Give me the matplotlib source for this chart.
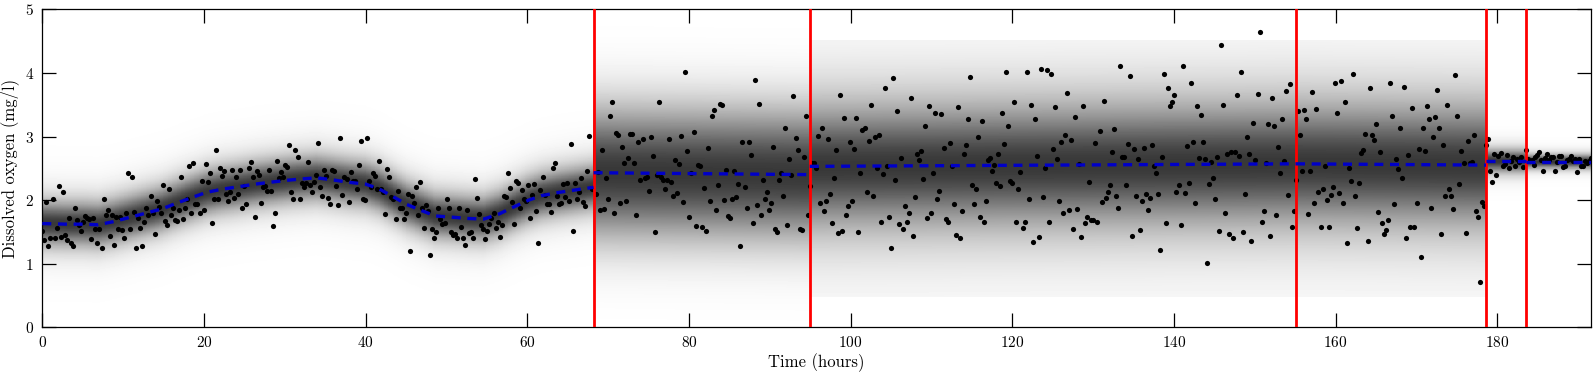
import numpy as np
import matplotlib
matplotlib.use("Agg")
import matplotlib.pyplot as plt

plt.rcParams['font.family'] = 'serif'
plt.rcParams['font.serif'] = ['cmr10']
plt.rcParams['mathtext.fontset'] = 'cm'
plt.rcParams['axes.formatter.use_mathtext'] = True

# puntos de cambio (horas) y fin del registro
cambios = [68.2, 94.95, 155.1, 178.6, 183.5]
t_fin = 191.6

# oxigeno disuelto observado (mg/l), por segmento, cada ~15 min
seg1 = [1.51, 1.37, 1.97, 1.28, 1.41, 2.01, 1.40, 1.56, 2.22, 1.42, 2.12, 1.45, 1.37, 1.71, 1.32, 1.28,
        1.87, 1.69, 1.61, 1.52, 1.66, 1.75, 1.71, 1.70, 1.39, 1.71, 1.54, 1.32, 1.54, 1.25, 2.01, 1.76,
        1.85, 1.43, 1.77, 1.29, 1.73, 1.55, 1.74, 1.53, 1.41, 1.79, 2.42, 1.54, 2.37, 1.81, 1.24, 1.72,
        1.56, 1.28, 1.66, 1.87, 1.76, 2.06, 1.80, 1.47, 1.99, 1.89, 1.80, 2.23, 1.67, 1.60, 2.17, 1.77,
        1.88, 1.69, 1.67, 1.85, 2.37, 1.70, 1.88, 2.02, 2.54, 1.80, 2.59, 1.94, 1.94, 1.79, 2.30, 1.84,
        2.57, 2.28, 2.43, 1.64, 2.02, 2.79, 2.02, 2.51, 2.38, 2.45, 2.10, 1.98, 2.12, 2.47, 2.03, 2.36,
        2.10, 2.48, 1.88, 2.22, 1.93, 2.51, 2.60, 2.37, 1.74, 2.46, 2.39, 1.96, 2.21, 2.22, 2.14, 2.47,
        2.15, 1.59, 1.80, 2.62, 2.34, 2.44, 2.37, 2.55, 2.52, 2.86, 2.13, 2.01, 2.79, 2.68,
        2.01, 2.27, 2.21, 2.27, 2.60, 2.23, 2.13, 2.29, 2.39, 2.90, 2.21, 2.06, 2.48, 2.38, 2.03, 1.94,
        2.47, 2.45, 2.22, 1.92, 2.98, 2.08, 2.37, 2.33, 1.97, 2.44, 2.30, 2.30, 2.18, 2.55, 2.93, 2.02,
        2.00, 2.98, 2.30, 2.21, 2.42, 2.38, 2.18, 2.61, 2.18, 2.13, 1.78, 2.49, 2.36, 2.05, 2.02, 1.70,
        2.14, 1.88, 1.88, 1.70, 1.80, 2.09, 1.20, 2.06, 1.96, 2.21, 1.77, 2.29, 1.87, 1.56, 1.92, 1.83,
        1.14, 1.54, 1.41, 1.49, 1.88, 1.70, 1.62, 1.64, 2.02, 1.87, 1.50, 1.45, 1.46, 1.40, 1.87, 1.58,
        1.41, 1.30, 1.85, 1.48, 1.50, 1.40, 2.33, 2.03, 1.78, 1.61, 1.54, 1.38, 1.51, 1.63, 1.71, 1.80,
        1.56, 1.65, 1.42, 1.61, 2.07, 2.05, 2.42, 2.19, 1.97, 1.62, 2.30, 2.27, 1.88, 2.16, 2.01, 1.99,
        2.23, 1.72, 2.08, 2.26, 1.83, 1.33, 2.16, 2.37, 2.08, 1.93, 1.94, 1.81, 2.50, 2.58, 2.06, 1.93,
        1.96, 2.25, 2.05, 2.27, 1.99, 2.89, 1.52, 2.27, 2.02, 2.13, 2.34, 1.97, 1.91, 2.45, 3.01, 2.18]
seg2 = [2.10, 2.44, 1.84, 2.79, 1.86, 2.35, 2.01, 3.32, 3.54, 1.79, 3.06, 3.03, 1.96, 2.83, 2.58, 1.98,
        2.66, 3.04, 3.04, 2.58, 1.76, 2.92, 2.32, 2.96, 2.35, 2.36, 2.14, 3.00, 2.70, 1.49, 2.40, 3.54,
        2.37, 2.32, 2.18, 2.32, 2.96, 2.28, 2.07, 2.63, 2.11, 2.57, 3.01, 1.97, 4.01, 2.77, 1.74, 2.43,
        3.07, 1.59, 2.55, 2.53, 1.58, 2.19, 1.51, 2.82, 1.98, 3.32, 3.42, 1.85, 2.24, 3.51, 3.49, 2.00,
        2.48, 1.75, 1.72, 2.01, 2.45, 2.05, 2.26, 1.27, 2.91, 2.20, 1.87, 2.91, 2.71, 1.64, 3.89, 1.92,
        3.51, 1.77, 2.32, 2.01, 2.12, 1.85, 1.95, 2.84, 1.55, 1.50, 2.31, 2.42, 2.06, 3.13, 1.60, 2.65,
        2.39, 3.64, 2.98, 2.79, 1.55, 1.53, 2.67, 3.33, 1.76, 2.22]
seg3 = [2.59, 2.58,
        2.50, 3.01, 1.95, 3.13, 1.82, 1.99, 2.96, 2.10, 1.64, 2.34, 2.79, 1.48, 3.66, 1.52, 3.29, 1.77,
        1.90, 2.91, 1.99, 2.81, 3.29, 1.49, 2.43, 3.11, 3.13, 2.12, 2.93, 3.49, 2.06, 2.99, 2.50, 3.02,
        1.65, 2.41, 3.76, 2.54, 1.73, 1.25, 3.92, 2.32, 3.40, 1.63, 2.66, 1.55, 1.91, 1.66, 1.79, 3.60,
        1.43, 2.04, 2.73, 2.63, 2.77, 2.33, 3.16, 1.72, 3.48, 1.80, 2.42, 3.37, 2.01, 2.15, 3.36, 2.82,
        1.70, 1.65, 2.90, 2.53, 1.94, 1.45, 3.47, 1.40, 1.83, 2.72, 2.86, 3.27, 3.93, 2.23, 1.93, 2.18,
        2.99, 1.73, 3.25, 1.66, 1.99, 2.63, 2.66, 2.46, 2.55, 2.27, 2.72, 2.22, 3.37, 2.89, 4.01, 3.16,
        2.30, 2.27, 3.55, 1.66, 2.18, 2.44, 1.56, 1.65, 4.01, 2.01, 3.50, 1.34, 3.28, 2.69, 1.42, 4.06,
        2.05, 2.50, 4.05, 1.65, 3.99, 2.80, 3.47, 2.65, 1.99, 2.92, 1.80, 3.03, 3.69, 1.84, 2.95, 1.54,
        3.31, 1.86, 2.57,
        1.42, 3.48, 1.64, 1.73, 2.28, 1.68, 1.68, 2.90, 1.65, 3.09, 1.97, 3.56, 2.03, 2.13, 2.23, 2.76,
        3.12, 2.06, 1.87, 4.11, 2.67, 2.68, 2.23, 2.89, 3.95, 1.43, 2.81, 2.06, 2.65, 1.53, 1.98, 2.82,
        2.10, 1.85, 2.03, 2.86, 2.54, 2.42, 2.09, 1.22, 2.68, 3.99, 1.64, 3.77, 3.48, 3.54, 3.65, 2.12,
        2.24, 1.60, 4.11, 2.11, 2.85, 2.27, 3.85, 2.92, 1.96, 3.48, 2.66, 3.34, 2.92, 2.64, 1.01, 2.25,
        2.60, 2.34, 2.02, 2.67, 1.52, 4.44, 3.50, 1.79, 2.73, 1.46, 2.76, 1.40, 2.75, 3.65, 2.70, 4.01,
        1.50, 2.09, 3.00, 2.73, 1.36, 3.21, 2.63, 3.67, 4.64, 1.66, 1.82, 2.59, 3.20, 1.44, 3.60, 3.17,
        1.76, 2.84, 2.42, 3.27, 2.61, 3.72, 2.08, 3.83, 1.57, 1.82, 2.32]
seg4 = [3.40, 3.02, 2.46, 3.41, 3.28, 1.78, 2.46, 3.70, 1.96, 3.43, 2.13, 1.57, 2.18, 2.54, 2.00, 1.58,
        2.08, 2.20, 3.84, 3.37, 2.11,
        3.87, 1.95, 3.54, 1.32, 2.50, 2.30, 3.99, 2.07, 1.56, 2.27, 2.74, 2.78, 3.04, 1.35, 3.77, 3.03,
        2.94, 3.20, 1.81, 2.76, 1.64, 1.47, 1.53, 1.69, 3.84, 3.32, 1.94, 2.65, 2.49, 3.13, 2.35, 3.78,
        1.40, 2.71, 1.57, 3.45, 1.57, 1.95, 2.80, 1.11, 3.14, 2.77, 3.48, 3.28, 1.88, 2.99, 3.31, 3.73,
        3.13, 1.47, 2.87, 2.07, 3.49, 2.17, 2.07, 1.86, 3.97, 3.32, 2.26, 2.77, 2.59, 1.48, 2.93, 2.59,
        2.60, 3.03, 1.82, 1.73, 0.71, 1.97, 1.90, 2.87]
seg5 = [2.96, 2.45, 2.28, 2.72, 2.39, 2.69, 2.74, 2.54, 2.57, 2.71, 2.50, 2.61, 2.67, 2.53, 2.65, 2.60,
        2.68, 2.52, 2.79]
seg6 = [2.64, 2.62, 2.63, 2.55, 2.68, 2.71, 2.75, 2.63, 2.46, 2.66, 2.72, 2.63, 2.67, 2.68, 2.45, 2.60,
        2.70, 2.70, 2.52, 2.54, 2.63, 2.65, 2.70, 2.61, 2.65, 2.44, 2.64, 2.54, 2.54, 2.61, 2.59, 2.61, 2.66]

# media predictiva (linea azul): nodos por segmento
media1_t = [0, 3.0, 5.1, 6.9, 8.8, 10.9, 12.7, 14.8, 16.6, 18.5, 20.3, 22.2, 24.3, 26.3, 28.2, 30.2,
            31.9, 33.9, 35.8, 37.9, 40.0, 41.6, 43.3, 45.1, 47.0, 48.6, 50.7, 52.6, 54.6, 56.5, 58.3,
            60.2, 61.8, 63.9, 66.0, 68.2]
media1_v = [1.63, 1.62, 1.62, 1.61, 1.66, 1.73, 1.79, 1.86, 1.95, 2.04, 2.12, 2.17, 2.21, 2.25, 2.28, 2.31,
            2.33, 2.35, 2.32, 2.28, 2.25, 2.18, 2.06, 1.93, 1.83, 1.75, 1.73, 1.71, 1.70, 1.78, 1.89,
            2.00, 2.07, 2.12, 2.16, 2.20]
media_ext = [(2.43, 2.40), (2.53, 2.57), (2.57, 2.55), (2.61, 2.61), (2.60, 2.60)]
escala = [0.25, 0.70, 0.70, 0.70, 0.13, 0.08]
# grados de libertad de la t (valor alto ~ normal)
gl = [5, 200, 5, 5, 5, 5]
# rango vertical donde se dibuja la densidad de cada segmento
rango = [(0, 5), (0, 5), (0.47, 4.52), (0.47, 4.52), (0, 5), (0, 5)]

segmentos = [seg1, seg2, seg3, seg4, seg5, seg6]
limites = [0] + cambios + [t_fin]

fig = plt.figure(figsize=(15.96, 3.79), dpi=100)
ax = fig.add_axes([0.0265, 0.137, 0.9704, 0.838])

# sombreado de la densidad predictiva (normalizada por columna)
nx, ny = 1900, 600
xg = np.linspace(0, t_fin, nx)
yg = np.linspace(0, 5, ny)
img = np.ones((ny, nx))
for k in range(6):
    a, b = limites[k], limites[k + 1]
    cols = (xg >= a) & (xg < b) if k < 5 else (xg >= a)
    if k == 0:
        mu = np.interp(xg[cols], media1_t, media1_v)
    else:
        m0, m1 = media_ext[k - 1]
        mu = np.interp(xg[cols], [a, b], [m0, m1])
    z = (yg[:, None] - mu[None, :]) / escala[k]
    nu = gl[k]
    d = (1 + z ** 2 / nu) ** (-(nu + 1) / 2)
    g = 1 - 0.78 * d
    fuera = (yg < rango[k][0]) | (yg > rango[k][1])
    g[fuera, :] = 1.0
    img[:, cols] = g
ax.imshow(img, extent=[0, t_fin, 0, 5], origin='lower', aspect='auto', cmap='gray',
          vmin=0, vmax=1, interpolation='nearest', zorder=0)

# puntos observados
for k, vals in enumerate(segmentos):
    a, b = limites[k], limites[k + 1]
    if k == 0:
        tt = np.linspace(a, b, len(vals) + 1)[:-1]
    else:
        tt = np.linspace(a, b, len(vals) + 1)[1:]
    ax.scatter(tt, vals, s=14, color='black', linewidths=0, zorder=3)

# puntos de cambio
for c in cambios:
    ax.axvline(c, color='red', lw=2.0, zorder=4)

# linea de media
estilo = dict(color='#0000c8', lw=2.4, linestyle=(0, (2.7, 2.0)), zorder=5)
ax.plot(media1_t, media1_v, **estilo)
for k in range(1, 6):
    a, b = limites[k], limites[k + 1]
    ax.plot([a, b], list(media_ext[k - 1]), **estilo)

ax.set_xlim(0, t_fin)
ax.set_ylim(0, 5)
ax.set_xticks(range(0, 181, 20))
ax.set_yticks(range(0, 6))
ax.tick_params(direction='in', length=10, width=0.9, top=True, right=True, labelsize=11, pad=6)
for s in ax.spines.values():
    s.set_linewidth(0.9)
ax.set_xlabel('Time (hours)', fontsize=12, labelpad=2)
ax.set_ylabel('Dissolved oxygen (mg/l)', fontsize=12, labelpad=4)

fig.savefig('out.png', dpi=100)
